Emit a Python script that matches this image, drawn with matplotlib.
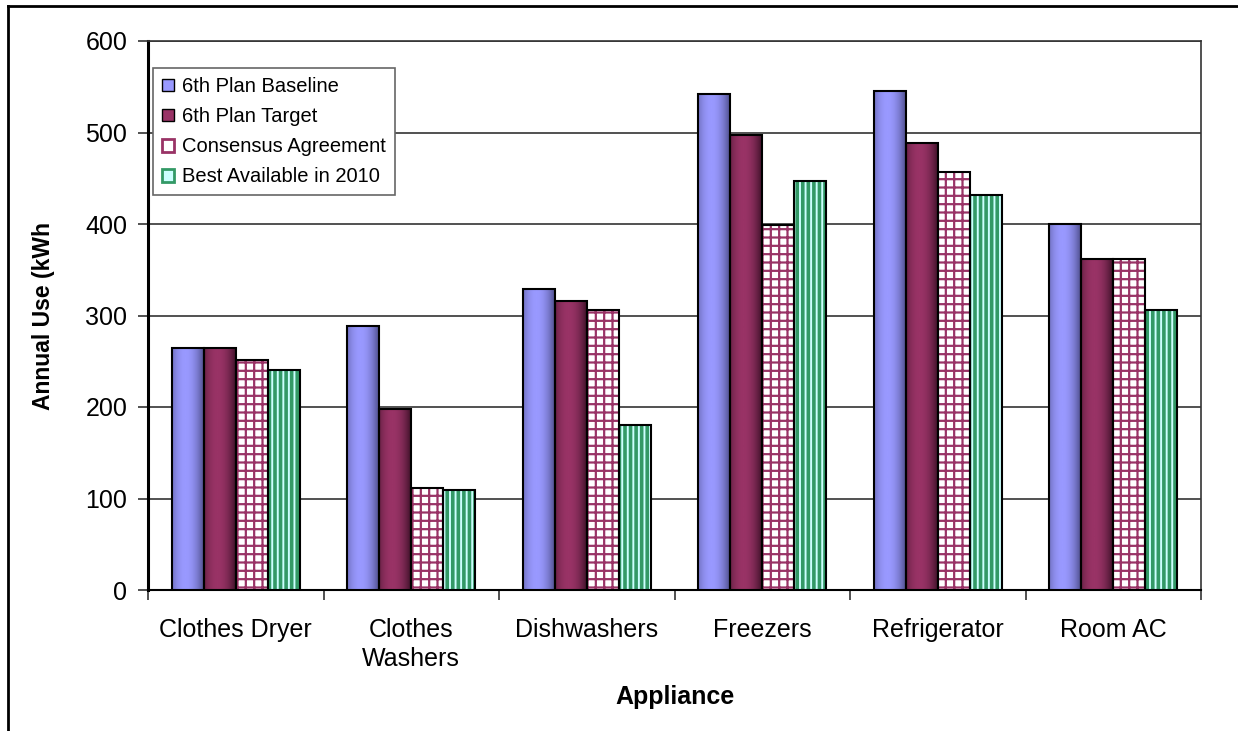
import matplotlib
matplotlib.use("Agg")
import matplotlib.pyplot as plt
from matplotlib.colors import LinearSegmentedColormap
from matplotlib.patches import Patch
from matplotlib.lines import Line2D
import numpy as np

plt.rcParams['font.family'] = ['Liberation Sans', 'DejaVu Sans']

# Data
appliances = ["Clothes Dryer", "Clothes\nWashers", "Dishwashers", "Freezers",
              "Refrigerator", "Room AC"]
series_names = ["6th Plan Baseline", "6th Plan Target", "Consensus Agreement",
                "Best Available in 2010"]
baseline = [264, 289, 329, 542, 545, 400]
target = [264, 198, 316, 497, 489, 362]
consensus = [251, 111, 306, 399, 457, 362]
best = [240, 109, 180, 447, 432, 306]
y_ticks = [0, 100, 200, 300, 400, 500, 600]

fig = plt.figure(figsize=(12.38, 7.31), dpi=100)
ax = fig.add_axes([148/1238, 1 - 590/731, 1053/1238, 549/731])

x = np.arange(len(appliances))
w = 0.182
offsets = [-1.5*w, -0.5*w, 0.5*w, 1.5*w]

grad_blue = LinearSegmentedColormap.from_list("gb", ["#4a4a85", "#9999ff"])
grad_red = LinearSegmentedColormap.from_list("gr", ["#3a1026", "#993366"])


def shaded(values, off, cmap):
  bars = ax.bar(x + off, values, w, color="none", edgecolor="black", lw=1.5, zorder=4)
  t = np.linspace(0, 1, 64)
  prof = np.clip(1 - ((t - 0.42) / 0.6)**2, 0, 1)[None, :]
  for b in bars:
    ax.imshow(prof, cmap=cmap, vmin=0, vmax=1, aspect="auto",
              extent=[b.get_x(), b.get_x() + b.get_width(), 0, b.get_height()],
              zorder=3, interpolation="bilinear")
  return bars


shaded(baseline, offsets[0], grad_blue)
shaded(target, offsets[1], grad_red)

# Consensus: pink grid
with plt.rc_context({'hatch.linewidth': 1.6}):
  cons = ax.bar(x + offsets[2], consensus, w, color="white", edgecolor="#993366",
                hatch="++", lw=0, zorder=3)
ax.bar(x + offsets[2], consensus, w, color="none", edgecolor="black", lw=1.5, zorder=4)

# Best available: green vertical stripes
with plt.rc_context({'hatch.linewidth': 2.6}):
  bst = ax.bar(x + offsets[3], best, w, color="#ccffff", edgecolor="#339966",
               hatch="|||", lw=0, zorder=3)
ax.bar(x + offsets[3], best, w, color="none", edgecolor="black", lw=1.5, zorder=4)

ax.set_xlim(-0.5, len(appliances) - 0.5)
ax.set_ylim(0, 600)
ax.set_yticks(y_ticks)
ax.yaxis.grid(True, color="#333333", lw=1.2, zorder=0)
ax.set_axisbelow(True)

ax.set_xticks(x)
ax.set_xticklabels(appliances, fontsize=18, linespacing=1.3)
ax.tick_params(axis="x", length=0, pad=20)
ax.set_xticks(np.arange(len(appliances) + 1) - 0.5, minor=True)
ax.tick_params(axis="x", which="minor", length=7, width=1.2, color="#333333")
ax.tick_params(axis="y", labelsize=18, length=7, width=1.2, color="#333333", pad=8)

for s in ["top", "right"]:
  ax.spines[s].set_color("#333333")
  ax.spines[s].set_linewidth(1.2)
ax.spines["left"].set_linewidth(2.2)
ax.spines["bottom"].set_linewidth(1.5)

ax.set_xlabel("Appliance", fontsize=18, fontweight="bold", labelpad=10)
ax.set_ylabel("Annual Use (kWh", fontsize=16.5, fontweight="bold", labelpad=22)

handles = [
  Patch(facecolor="#9999ff", edgecolor="black"),
  Patch(facecolor="#993366", edgecolor="black"),
  Patch(facecolor="white", edgecolor="#993366", lw=2),
  Patch(facecolor="#ccffff", edgecolor="#339966", lw=2),
]
leg = ax.legend(handles, series_names, loc="upper left",
                bbox_to_anchor=(5/1053, 1 - 27/549), borderaxespad=0,
                fontsize=14.5, fancybox=False, framealpha=1, edgecolor="#666666",
                handlelength=0.6, handleheight=0.6, handletextpad=0.4,
                labelspacing=0.55, borderpad=0.45)
leg.get_frame().set_linewidth(1.2)
leg.set_zorder(6)

# Figure border (left and top edges)
fig.add_artist(Line2D([8/1238, 8/1238], [0, 1 - 6/731], color="black", lw=2,
                      transform=fig.transFigure))
fig.add_artist(Line2D([8/1238, 1], [1 - 6/731, 1 - 6/731], color="black", lw=2,
                      transform=fig.transFigure))

plt.savefig("out.png", dpi=100)
